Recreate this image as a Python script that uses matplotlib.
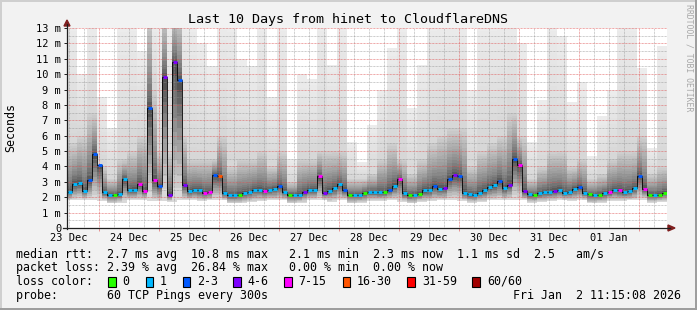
import numpy as np
import matplotlib
matplotlib.use("Agg")
import matplotlib.pyplot as plt
from matplotlib.patches import Rectangle, Polygon
from matplotlib.lines import Line2D

# ---------------- data ----------------
title = "Last 10 Days from hinet to CloudflareDNS"
bin_hours = 2            # each median / loss value covers 2 hours
start_to_first_noon = 0.75  # hours from Dec 23 11:15 to Dec 23 12:00

median_ms = [
    2.35, 2.86, 2.95, 2.43, 3.1, 4.8, 4.1, 2.35, 2.15, 2.15,
    2.2, 3.2, 2.45, 2.5, 2.86, 2.43, 7.8, 3.1, 2.7, 9.8,
    2.15, 10.8, 9.6, 2.8, 2.4, 2.5, 2.45, 2.3, 2.35, 3.45,
    3.4, 2.25, 2.12, 2.12, 2.17, 2.25, 2.35, 2.5, 2.5, 2.42,
    2.45, 2.55, 2.7, 2.35, 2.15, 2.15, 2.15, 2.35, 2.5, 2.5,
    3.35, 2.3, 2.43, 2.6, 2.85, 2.5, 2.15, 2.15, 2.15, 2.3,
    2.36, 2.36, 2.34, 2.35, 2.5, 2.75, 3.18, 2.25, 2.12, 2.15,
    2.22, 2.45, 2.45, 2.7, 2.55, 2.58, 3.16, 3.45, 3.4, 2.3,
    2.18, 2.15, 2.3, 2.45, 2.65, 2.8, 3.05, 2.58, 2.8, 4.5,
    4.1, 2.4, 2.18, 2.15, 2.25, 2.36, 2.35, 2.43, 2.5, 2.3,
    2.36, 2.55, 2.65, 2.3, 2.18, 2.15, 2.15, 2.28, 2.35, 2.5,
    2.45, 2.35, 2.38, 2.6, 3.4, 2.55, 2.15, 2.15, 2.15, 2.3,
]

loss_pings = [
    1, 1, 1, 1, 2, 2, 2, 1, 1, 0,
    1, 1, 1, 1, 7, 7, 2, 7, 2, 4,
    4, 4, 2, 4, 1, 1, 1, 7, 7, 2,
    16, 1, 1, 1, 0, 1, 1, 1, 1, 7,
    1, 1, 2, 1, 0, 1, 1, 4, 1, 1,
    7, 4, 1, 1, 1, 2, 0, 1, 1, 0,
    1, 1, 1, 0, 2, 1, 7, 1, 0, 1,
    0, 1, 1, 2, 1, 4, 2, 4, 2, 1,
    1, 1, 1, 1, 1, 1, 2, 1, 4, 2,
    7, 4, 1, 0, 1, 1, 1, 4, 1, 1,
    1, 1, 2, 1, 0, 1, 0, 1, 7, 1,
    7, 1, 1, 1, 2, 7, 0, 1, 0, 0,
]

# upper edge of the denser (mid-grey) smoke, per 2-hour bin
smoke_mid_ms = [
    5.5, 5.5, 6, 6, 7.5, 7.5, 4, 4, 3.2, 3.2,
    4.5, 4.5, 5, 5, 6, 6, 14, 9, 5, 14,
    5, 14, 14, 6, 4.5, 4.5, 4.5, 4.5, 4.5, 4.5,
    6, 6, 4, 4, 4.5, 4.5, 4.5, 4.5, 5, 5,
    4, 4, 5, 5, 3, 3, 4.5, 4.5, 4.5, 4.5,
    5, 5, 5, 5, 5, 5, 3.2, 3.2, 3.2, 3.2,
    3.5, 3.5, 4.5, 4.5, 5.5, 5.5, 4.5, 4.5, 3.5, 3.5,
    4.5, 4.5, 5.5, 5.5, 6, 6, 6.5, 6.5, 6.5, 6.5,
    4, 4, 5, 5, 5.5, 5.5, 6, 6, 7.5, 7.5,
    6, 6, 3.2, 3.2, 4, 4, 5, 5, 5, 5,
    4, 4, 4.5, 4.5, 3.2, 3.2, 3.5, 3.5, 4.5, 4.5,
    5, 5, 5, 5, 6, 6, 3.5, 3.5, 4, 4,
]

# top of the faint smoke, per 4-hour bin
smoke_hi_ms = [
    13.5, 10, 13.5, 8.5, 6.5, 13.5, 13.5, 11.5, 13.5, 13.5,
    13.5, 13.5, 13.5, 12, 10.5, 13.5, 13.5, 11, 10.5, 13.5,
    8.5, 13.5, 4.5, 10, 9.7, 13.5, 10.6, 13.5, 5.6, 4.3,
    6.7, 9, 11.7, 13.5, 7.8, 10.6, 13.5, 13.5, 13.5, 13.5,
    9, 13.5, 13.5, 13.5, 13.5, 12, 5.6, 8.3, 13.5, 12.5,
    8.2, 9.5, 4.7, 7.3, 9, 13.5, 13.5, 10.4, 5.2, 11.8,
]

# bottom of the smoke, per 4-hour bin
smoke_lo_ms = [
    1.8, 1.85, 1.85, 1.75, 1.6, 1.65, 1.8, 1.8, 1.75, 1.75,
    1.7, 1.8, 1.8, 1.75, 1.8, 1.8, 1.6, 1.6, 1.7, 1.75,
    1.8, 1.8, 1.6, 1.65, 1.8, 1.8, 1.7, 1.8, 1.6, 1.65,
    1.75, 1.75, 1.8, 1.7, 1.6, 1.7, 1.75, 1.8, 1.85, 1.75,
    1.65, 1.7, 1.8, 1.8, 1.85, 1.8, 1.65, 1.7, 1.75, 1.8,
    1.75, 1.8, 1.6, 1.65, 1.75, 1.75, 1.8, 1.85, 1.65, 1.7,
]

day_labels = ["23 Dec", "24 Dec", "25 Dec", "26 Dec", "27 Dec",
              "28 Dec", "29 Dec", "30 Dec", "31 Dec", "01 Jan"]
y_tick_values = list(range(14))
y_tick_labels = ["0", "1 m", "2 m", "3 m", "4 m", "5 m", "6 m", "7 m",
                 "8 m", "9 m", "10 m", "11 m", "12 m", "13 m"]

loss_legend_labels = ["0", "1", "2-3", "4-6", "7-15", "16-30", "31-59", "60/60"]
loss_legend_lower = [0, 1, 2, 4, 7, 16, 31, 60]
loss_legend_colors = ["#26ff00", "#00b8ff", "#0059ff", "#7e00ff",
                      "#ff00ff", "#ff5500", "#ff0000", "#a10000"]

legend_line1 = "median rtt:  2.7 ms avg  10.8 ms max   2.1 ms min  2.3 ms now  1.1 ms sd  2.5   am/s"
legend_line2 = "packet loss: 2.39 % avg  26.84 % max   0.00 % min  0.00 % now"
legend_line3 = "loss color:"
probe_line = "probe:       60 TCP Pings every 300s"
timestamp = "Fri Jan  2 11:15:08 2026"
watermark = "RRDTOOL / TOBI OETIKER"
y_label = "Seconds"

# ---------------- figure ----------------
W, H = 697, 310
MONO = "DejaVu Sans Mono"
fig = plt.figure(figsize=(W / 100, H / 100), dpi=100)
fig.patch.set_facecolor("#f2f2f2")

def fx(x):
    return x / W

def fy(y):
    return 1 - y / H

PL, PR, PT, PB = 67, 667, 28, 228
ax = fig.add_axes([fx(PL), fy(PB), (PR - PL) / W, (PB - PT) / H])
ax.set_facecolor("white")
n = len(median_ms)
total_h = n * bin_hours
ax.set_xlim(0, total_h)
ax.set_ylim(0, 13)
for s in ax.spines.values():
    s.set_visible(False)

edges = np.arange(n + 1) * bin_hours
med = np.asarray(median_ms, float)
mid = np.maximum(np.asarray(smoke_mid_ms, float), med)
hi = np.maximum(np.repeat(np.asarray(smoke_hi_ms, float), 2), mid)
lo = np.minimum(np.repeat(np.asarray(smoke_lo_ms, float), 2), med)

def ext(a):
    return np.append(a, a[-1])

def band(y_from, y_to, g_from, g_to, steps, gamma=1.0):
    for k in range(steps):
        t0, t1 = k / steps, (k + 1) / steps
        a = y_from + (y_to - y_from) * t0
        b = y_from + (y_to - y_from) * t1
        tm = ((t0 + t1) / 2) ** gamma
        g = g_from + (g_to - g_from) * tm
        ax.fill_between(edges, ext(a), ext(b), step="post",
                        color=(g, g, g), lw=0, antialiased=False, zorder=1)

# faint upper smoke, denser upper smoke, lower smoke
band(mid, hi, 0.84, 0.93, 12)
band(med, mid, 0.30, 0.82, 16, gamma=0.65)
band(med, lo, 0.28, 0.88, 10, gamma=0.9)

# ---------------- grid ----------------
dash = (0, (0.72, 0.72))
minor_col = (0.56, 0.56, 0.56, 0.6)
major_col = (0.87, 0.31, 0.31, 0.65)
midnights = [start_to_first_noon + 12 + 24 * k for k in range(len(day_labels))]
minor_x = np.arange(start_to_first_noon, total_h, 6)
for xv in minor_x:
    if min(abs(xv - m) for m in midnights) > 0.1:
        ax.axvline(xv, color=minor_col, lw=0.72, ls=dash, zorder=3)
for xv in midnights:
    ax.axvline(xv, color=major_col, lw=0.72, ls=dash, zorder=3)
for yv in np.arange(0.5, 13.01, 1.0):
    ax.axhline(yv, color=minor_col, lw=0.72, ls=dash, zorder=3)
for yv in y_tick_values[1:]:
    ax.axhline(yv, color=major_col, lw=0.72, ls=dash, zorder=3)

# ---------------- median + loss colours ----------------
def loss_color(p):
    c = loss_legend_colors[0]
    for lim, col in zip(loss_legend_lower, loss_legend_colors):
        if p >= lim:
            c = col
    return c

ax.stairs(med, edges, baseline=None, color="black", lw=0.6, zorder=4)
ax.hlines(med, edges[:-1] + 0.2, edges[1:] - 0.2,
          colors=[loss_color(p) for p in loss_pings], lw=2.1, zorder=5)

# ---------------- ticks ----------------
noon_pos = [start_to_first_noon + 24 * k for k in range(len(day_labels))]
ax.set_xticks(noon_pos)
ax.set_xticklabels(day_labels, family=MONO, fontsize=7.5)
ax.tick_params(axis="x", length=0, pad=3.6)
ax.set_xticks(midnights, minor=True)
ax.tick_params(axis="x", which="minor", length=2.2, width=0.7,
               color=(0.87, 0.31, 0.31, 0.6), direction="out")
ax.set_yticks(y_tick_values)
ax.set_yticklabels(y_tick_labels, family=MONO, fontsize=7.5)
ax.tick_params(axis="y", length=2.2, width=0.7, color=(0.12, 0.12, 0.12),
               direction="out", pad=2.0)

# ---------------- axes lines & arrows ----------------
axis_col = (0.12, 0.12, 0.12)
arrow_col = (0.5, 0.12, 0.12)
fig.add_artist(Line2D([fx(PL), fx(PL)], [fy(PB + 0.5), fy(24)], color=axis_col, lw=0.9))
fig.add_artist(Line2D([fx(63), fx(670)], [fy(PB), fy(PB)], color=axis_col, lw=0.9))
fig.add_artist(Polygon([(fx(64), fy(26)), (fx(70), fy(26)), (fx(67), fy(20))],
                       closed=True, color=arrow_col, transform=fig.transFigure))
fig.add_artist(Polygon([(fx(668), fy(225)), (fx(668), fy(231)), (fx(675), fy(228))],
                       closed=True, color=arrow_col, transform=fig.transFigure))

# ---------------- canvas shading ----------------
for (x0, y0, w, h, c) in [(0, 0, W, 2, "#cfcfcf"), (0, 0, 2, H, "#cfcfcf"),
                          (0, H - 2, W, 2, "#9e9e9e"), (W - 2, 0, 2, H, "#9e9e9e")]:
    fig.add_artist(Rectangle((fx(x0), fy(y0 + h)), w / W, h / H, color=c,
                             lw=0, transform=fig.transFigure))

# ---------------- texts ----------------
fig.text(fx(347.5), fy(19.5), title, family=MONO, fontsize=9.6,
         ha="center", va="center")
fig.text(fx(11), fy(127), y_label, family=MONO, fontsize=8.37, rotation=90,
         ha="center", va="center")
fig.text(fx(689), fy(58), watermark, family=MONO, fontsize=5.9, rotation=270,
         ha="center", va="center", color="#a8a8a8")

LS = 8.37
fig.text(fx(16), fy(254.5), legend_line1, family=MONO, fontsize=LS, va="center")
fig.text(fx(16), fy(268), legend_line2, family=MONO, fontsize=LS, va="center")
fig.text(fx(16), fy(281.5), legend_line3, family=MONO, fontsize=LS, va="center")
fig.text(fx(16), fy(295.5), probe_line, family=MONO, fontsize=LS, va="center")
fig.text(fx(681), fy(295.5), timestamp, family=MONO, fontsize=LS, va="center",
         ha="right")

box_x = [108, 145.5, 182.5, 233, 284, 342.5, 407.5, 472.5]
for bx, lab, col in zip(box_x, loss_legend_labels, loss_legend_colors):
    fig.add_artist(Rectangle((fx(bx), fy(286.5)), 7.5 / W, 10 / H,
                             facecolor=col, edgecolor="black", lw=0.8,
                             transform=fig.transFigure))
    fig.text(fx(bx + 14.5), fy(281.5), lab, family=MONO, fontsize=LS, va="center")

fig.savefig("out.png", dpi=100, facecolor=fig.get_facecolor())
